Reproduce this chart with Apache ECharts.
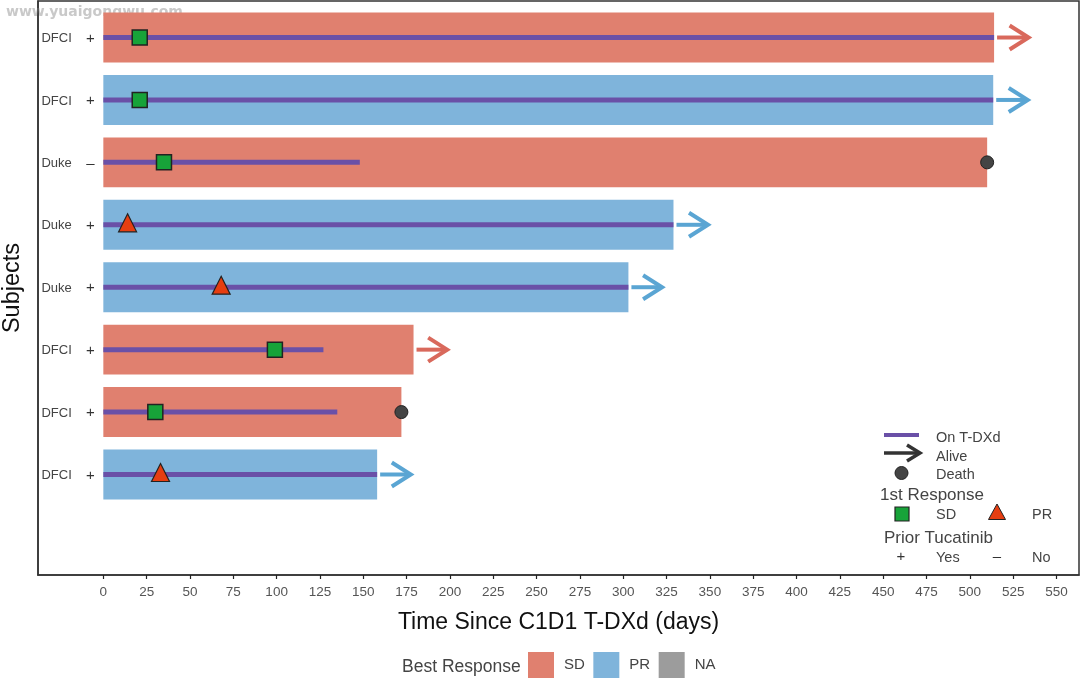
<!DOCTYPE html>
<html><head><meta charset="utf-8">
<style>html,body{margin:0;padding:0;background:#fff}#c{width:1080px;height:679px}</style>
<script src="https://cdn.jsdelivr.net/npm/echarts@6/dist/echarts.min.js"></script>
</head><body><div id="c"></div>
<script>
const rows = [0,1,2,3,4,5,6,7];
const sites = ['DFCI','DFCI','Duke','Duke','Duke','DFCI','DFCI','DFCI'];
const priorTucatinib = ['+','+','\u2013','+','+','+','+','+'];
const bestResponse = ['SD','PR','SD','PR','PR','SD','SD','PR'];
const timeOnStudy = [514,513.5,510,329,303,179,172,158];
const onTreatmentEnd = [514,513.5,148,329,303,127,135,158];
const firstResponseDay = [21,21,35,14,68,99,30,33];
const firstResponseType = ['SD','SD','SD','PR','PR','SD','SD','PR'];
const deathDay = [null,null,510,null,null,null,172,null];
const arrowTip = [534.5,534,null,349.5,323,199,null,178];
const xTicks = [0,25,50,75,100,125,150,175,200,225,250,275,300,325,350,375,400,425,450,475,500,525,550];

const RED='#E0806F', BLUE='#7FB4DB', GREY='#9C9C9C', PURPLE='#6A50A7';
const ARED='#D9695C', ABLUE='#5AA5D3', GREEN='#17A339', ORANGE='#E63E11', DARK='#444444';
const FONT='"Liberation Sans", Arial, sans-serif';

function barSeries(name,color){
  return {type:'custom',name,itemStyle:{color},coordinateSystem:'cartesian2d',z:1,
    data:rows.filter(i=>bestResponse[i]===name).map(i=>[timeOnStudy[i],i]),
    encode:{x:0,y:1},
    renderItem(p,api){
      const a=api.coord([0,api.value(1)-0.4]), b=api.coord([api.value(0),api.value(1)+0.4]);
      return {type:'rect',shape:{x:a[0],y:a[1],width:b[0]-a[0],height:b[1]-a[1]},style:{fill:color}};
    }};
}
const option={
  animation:false,
  backgroundColor:'#fff',
  textStyle:{fontFamily:FONT},
  grid:{left:38,right:1,top:1,bottom:104,outerBoundsMode:'none',show:true,borderColor:'#333',borderWidth:1.5,backgroundColor:'#fff'},
  xAxis:{type:'value',min:-37.7,max:563,
    name:'Time Since C1D1 T-DXd (days)',nameLocation:'middle',nameGap:36,
    nameTextStyle:{fontSize:23,color:'#111',fontFamily:FONT},
    splitLine:{show:false},
    axisLine:{show:true,onZero:false,lineStyle:{color:'#333',width:1.5}},
    axisTick:{show:true,length:4,customValues:xTicks,lineStyle:{color:'#222',width:1.2}},
    axisLabel:{customValues:xTicks,fontSize:13.5,color:'#555',margin:10,fontFamily:FONT}},
  yAxis:{type:'value',inverse:true,min:-0.585,max:8.61,
    name:'Subjects',nameLocation:'middle',nameGap:13,
    nameTextStyle:{fontSize:23.5,color:'#111',fontFamily:FONT},
    splitLine:{show:false},
    axisLine:{show:true,onZero:false,lineStyle:{color:'#333',width:1.5}},
    axisTick:{show:false},axisLabel:{show:false}},
  legend:{show:true,data:['SD','PR','NA'],left:528,top:652,padding:0,itemWidth:26,itemHeight:26,itemGap:8.5,icon:'rect',
    selectedMode:false,textStyle:{fontSize:15,color:'#444',fontFamily:FONT,padding:[6,0,0,5]}},
  series:[
    barSeries('SD',RED),barSeries('PR',BLUE),barSeries('NA',GREY),
    {type:'custom',name:'On T-DXd',z:3,data:rows.map(i=>[onTreatmentEnd[i],i]),encode:{x:0,y:1},
      renderItem(p,api){
        const a=api.coord([0,api.value(1)]),b=api.coord([api.value(0),api.value(1)]);
        return {type:'line',shape:{x1:a[0],y1:a[1],x2:b[0],y2:b[1]},style:{stroke:PURPLE,lineWidth:5}};
      }},
    {type:'custom',name:'Alive',z:3,
      data:rows.filter(i=>arrowTip[i]!=null).map(i=>[timeOnStudy[i],i,arrowTip[i]]),encode:{x:[0,2],y:1},
      renderItem(p,api){
        const i=api.value(1),c=bestResponse[i]==='SD'?ARED:ABLUE;
        const a=api.coord([api.value(0),i]),t=api.coord([api.value(2),i]);
        const st={stroke:c,lineWidth:4,fill:null,lineCap:'butt',lineJoin:'miter'};
        return {type:'group',children:[
          {type:'line',shape:{x1:a[0]+3,y1:a[1],x2:t[0]-2,y2:t[1]},style:st},
          {type:'polyline',shape:{points:[[t[0]-20,t[1]-12],[t[0]-1,t[1]],[t[0]-20,t[1]+12]]},style:st}
        ]};
      }},
    {type:'scatter',name:'Death',z:5,symbol:'circle',symbolSize:13,
      itemStyle:{color:DARK,borderColor:'#222',borderWidth:1,opacity:1},
      data:rows.filter(i=>deathDay[i]!=null).map(i=>[deathDay[i],i])},
    {type:'scatter',name:'1st Response SD',z:5,symbol:'rect',symbolSize:15,
      itemStyle:{color:GREEN,borderColor:'#222',borderWidth:1.5,opacity:1},
      data:rows.filter(i=>firstResponseType[i]==='SD').map(i=>[firstResponseDay[i],i])},
    {type:'scatter',name:'1st Response PR',z:5,symbol:'triangle',symbolSize:[18,18],symbolOffset:[0,-2],
      itemStyle:{color:ORANGE,borderColor:'#222',borderWidth:1.2,opacity:1},
      data:rows.filter(i=>firstResponseType[i]==='PR').map(i=>[firstResponseDay[i],i])},
    {type:'custom',name:'Site labels',z:4,data:rows.map(i=>[-35.7,i]),encode:{x:0,y:1},
      renderItem(p,api){
        const i=api.value(1),a=api.coord([api.value(0),i]);
        return {type:'text',style:{x:a[0],y:a[1]+1,text:sites[i],fill:'#444',font:'13px '+FONT,textAlign:'left',textVerticalAlign:'middle'}};
      }},
    {type:'custom',name:'Prior labels',z:4,data:rows.map(i=>[-7.5,i]),encode:{x:0,y:1},
      renderItem(p,api){
        const i=api.value(1),a=api.coord([api.value(0),i]);
        return {type:'text',style:{x:a[0],y:a[1]+1,text:priorTucatinib[i],fill:'#333',font:'15px '+FONT,textAlign:'center',textVerticalAlign:'middle'}};
      }}
  ],
  graphic:{elements:[
    {type:'text',x:6,y:5,z:0,silent:true,style:{text:'www.yuaigongwu.com',font:'bold 14px "DejaVu Sans"',fill:'#c9c9c9'}},
    {type:'text',x:402,y:667,style:{text:'Best Response',font:'17.5px '+FONT,fill:'#444',textVerticalAlign:'middle'}},
    {type:'line',shape:{x1:884,y1:435,x2:919,y2:435},style:{stroke:PURPLE,lineWidth:4}},
    {type:'line',shape:{x1:884,y1:453,x2:919,y2:453},style:{stroke:'#333',lineWidth:3.5}},
    {type:'polyline',shape:{points:[[907,445],[920,453],[907,461]]},style:{stroke:'#333',lineWidth:3.5,fill:null}},
    {type:'circle',shape:{cx:901.5,cy:473,r:6.5},style:{fill:DARK,stroke:'#222',lineWidth:1}},
    {type:'rect',shape:{x:895,y:507,width:14,height:14},style:{fill:GREEN,stroke:'#222',lineWidth:1.2}},
    {type:'polygon',shape:{points:[[997,504],[988.5,519.5],[1005.5,519.5]]},style:{fill:ORANGE,stroke:'#222',lineWidth:1}},
    ...[['On T-DXd',936,438],['Alive',936,457],['Death',936,475],
        ['SD',936,515],['PR',1032,515],['Yes',936,558],['No',1032,558]]
      .map(([t,x,y])=>({type:'text',x,y,style:{text:t,font:'14.5px '+FONT,fill:'#444',textVerticalAlign:'middle'}})),
    ...[['1st Response',880,495],['Prior Tucatinib',884,538]]
      .map(([t,x,y])=>({type:'text',x,y,style:{text:t,font:'17px '+FONT,fill:'#444',textVerticalAlign:'middle'}})),
    ...[['+',901,557],['\u2013',997,557]]
      .map(([t,x,y])=>({type:'text',x,y,style:{text:t,font:'15px '+FONT,fill:'#333',textAlign:'center',textVerticalAlign:'middle'}}))
  ]}
};
echarts.init(document.getElementById('c'),null,{renderer:'canvas'}).setOption(option);
</script></body></html>
